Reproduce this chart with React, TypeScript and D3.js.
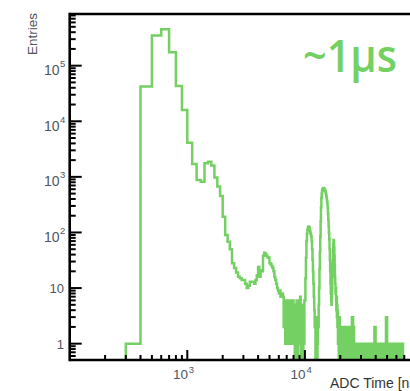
import React from "react";
import * as d3 from "d3";

const W = 410;
const H = 391;

// Histogram: uniform 100 ns bins; mainCounts start at 300 ns
const binWidth = 100;
const mainStart = 300;
const mainCounts = [
  1, 42000, 350000, 450000, 174000, 43000, 16000, 4100, 1700, 880,
  820, 1750, 1880, 1600, 970, 670, 455, 192, 90, 68,
  50, 28, 23, 19, 16, 15, 14, 14, 12, 10,
  11, 13, 13, 13, 12, 14, 17, 24, 16, 21,
  20, 38, 43, 41, 38, 36, 35, 28, 27, 25,
  23, 20, 16, 14, 12, 10, 9, 8, 9, 7,
  7, 8,
  // 6500 - 9900
  7, 2, 6, 1, 5, 3, 6, 1, 5, 2, 6, 1, 4, 2, 6, 1, 5, 0, 4, 1,
  6, 0, 5, 2, 6, 1, 7, 0, 4, 1, 5, 0, 3, 1, 6,
  // 10000 - 12900
  6, 15, 35, 70, 95, 112, 122, 128, 126, 120, 110, 100, 92, 85, 70, 50, 32, 20, 12, 7,
  4, 2, 3, 0, 1, 0, 2, 0, 1, 3,
  // 13000 - 16900
  2, 5, 10, 22, 45, 85, 160, 280, 420, 510, 570, 600, 620, 630, 625, 615, 600, 590, 570, 550,
  520, 490, 450, 410, 370, 330, 280, 220, 170, 130, 100, 75, 50, 32, 20, 12, 8, 6, 5, 7,
  // 17000 - 19900
  10, 16, 28, 45, 62, 73, 70, 55, 38, 25, 16, 12, 8, 10, 6, 4, 7, 3, 5, 2,
  4, 1, 3, 2, 0, 2, 1, 3, 1, 2,
];
// sparse tail above 20 us: [bin low edge (ns), entries]
const tailHits: [number, number][] = [
  [20200, 2], [20600, 2], [21000, 2], [21600, 1], [22100, 2], [22500, 2], [23000, 2],
  [23500, 1], [24100, 2], [24600, 2], [25100, 3], [25600, 3], [26100, 2], [26600, 1],
  [27200, 1], [27700, 1], [28200, 1], [29000, 1], [29900, 1], [30500, 1], [31100, 1],
  [31800, 1], [32400, 1], [33000, 1], [34700, 1], [35400, 1], [36100, 1], [36800, 1],
  [37500, 1], [38300, 1], [39000, 2], [39800, 2], [40600, 1], [41400, 1], [42200, 1],
  [43200, 1], [45200, 1], [46100, 1], [47000, 1], [47900, 1], [48900, 3], [49900, 3],
  [50900, 1], [51800, 1], [52900, 1], [54100, 1], [56600, 1], [57800, 1], [58900, 1],
  [60100, 1], [61200, 1], [62700, 1], [64300, 1], [65600, 1], [66900, 1], [68200, 1],
];

const xMajorTicks = [1000, 10000];
const xTickExps = ["3", "4"];
const yMajorTicks = [1, 10, 100, 1000, 10000, 100000];
const yTickLabels = ["1", "10", "10|2", "10|3", "10|4", "10|5"];

const GREEN = "#74d063";
const LABEL = "#4f5661";

export default function App() {
  const left = 69.7;
  const dec = 117.6;
  const x = d3.scaleLog().domain([100, 100000]).range([left, left + 3 * dec]);
  const y = d3.scaleLog().domain([0.5, 8.5e5]).range([360.4, 14]);
  const bottom = 360;
  const top = 14;

  // build full bin list from 100 ns up to 100 us
  const nb = (100000 - 100) / binWidth;
  const counts: number[] = new Array(nb).fill(0);
  mainCounts.forEach((c, i) => {
    counts[(mainStart - 100) / binWidth + i] = c;
  });
  tailHits.forEach(([e, c]) => {
    counts[Math.round((e - 100) / binWidth)] = c;
  });
  const pts: [number, number][] = counts.map((c, i) => [100 + i * binWidth, c]);
  pts.push([100000, 0]);
  const yv = (c: number) => (c > 0 ? y(c) : bottom + 3);
  const line = d3
    .line<[number, number]>()
    .x((d) => x(d[0]))
    .y((d) => yv(d[1]))
    .curve(d3.curveStepAfter);
  const path = line(pts) || "";

  const yMinor: number[] = [];
  for (let n = -1; n <= 5; n++)
    for (let k = 2; k <= 9; k++) {
      const v = k * Math.pow(10, n);
      if (v > 0.5 && v < 8.5e5) yMinor.push(v);
    }
  const xMinor: number[] = [];
  for (let n = 2; n <= 4; n++)
    for (let k = 2; k <= 9; k++) xMinor.push(k * Math.pow(10, n));

  const font = "'Liberation Sans', Arial, sans-serif";

  return (
    <svg width={W} height={H} style={{ position: "absolute", left: 0, top: 0 }}>
      <rect width={W} height={H} fill="#fff" />
      <defs>
        <clipPath id="frame">
          <rect x={left} y={top} width={W} height={bottom - top} />
        </clipPath>
      </defs>
      <path
        d={path}
        fill="none"
        stroke={GREEN}
        strokeWidth={2.5}
        strokeLinejoin="miter"
        clipPath="url(#frame)"
      />
      {/* frame */}
      <line x1={left} x2={W} y1={top} y2={top} stroke="#000" strokeWidth={2.6} />
      <line x1={left} x2={W} y1={bottom} y2={bottom} stroke="#000" strokeWidth={2.6} />
      <line x1={left} x2={left} y1={top - 1.3} y2={bottom + 1.3} stroke="#000" strokeWidth={2.6} />
      {/* y ticks */}
      {yMajorTicks.map((v) => (
        <line key={"ym" + v} x1={left} x2={left + 12} y1={y(v)} y2={y(v)} stroke="#000" strokeWidth={2} />
      ))}
      {yMinor.map((v) => (
        <line key={"yn" + v} x1={left} x2={left + 6} y1={y(v)} y2={y(v)} stroke="#000" strokeWidth={2} />
      ))}
      {/* x ticks */}
      {xMajorTicks.map((v) => (
        <line key={"xm" + v} x1={x(v)} x2={x(v)} y1={bottom} y2={bottom - 10} stroke="#000" strokeWidth={2} />
      ))}
      {xMinor.map((v) => (
        <line key={"xn" + v} x1={x(v)} x2={x(v)} y1={bottom} y2={bottom - 5} stroke="#000" strokeWidth={2} />
      ))}
      {/* y labels */}
      {yMajorTicks.map((v, i) => {
        const lab = yTickLabels[i];
        if (lab.includes("|")) {
          const [base, exp] = lab.split("|");
          return (
            <g key={"yl" + v} fontFamily={font} fill={LABEL}>
              <text x={59.5} y={y(v) + 9.5} fontSize={14} textAnchor="end">{base}</text>
              <text x={60} y={y(v) + 1.5} fontSize={9.5}>{exp}</text>
            </g>
          );
        }
        return (
          <text key={"yl" + v} x={64} y={y(v) + 5} fontSize={13} textAnchor="end" fontFamily={font} fill={LABEL}>
            {lab}
          </text>
        );
      })}
      {/* x labels */}
      {xMajorTicks.map((v, i) => (
        <g key={"xl" + v} fontFamily={font} fill={LABEL}>
          <text x={x(v) + 0.7} y={379} fontSize={13.5} textAnchor="end">10</text>
          <text x={x(v) + 1.5} y={373} fontSize={9.5}>{xTickExps[i]}</text>
        </g>
      ))}
      <text x={330} y={388} fontSize={14} fontFamily={font} fill="#333">ADC Time [ns]</text>
      <text
        transform="translate(37.3,13) rotate(-90)"
        fontSize={13.5}
        textAnchor="end"
        fontFamily={font}
        fill={LABEL}
      >
        Entries
      </text>
      <text
        x={303}
        y={72}
        fontSize={46}
        fontWeight={600}
        fontFamily="'Open Sans', sans-serif"
        fill={GREEN}
        textLength={94}
        lengthAdjust="spacingAndGlyphs"
      >
        ~1μs
      </text>
    </svg>
  );
}
